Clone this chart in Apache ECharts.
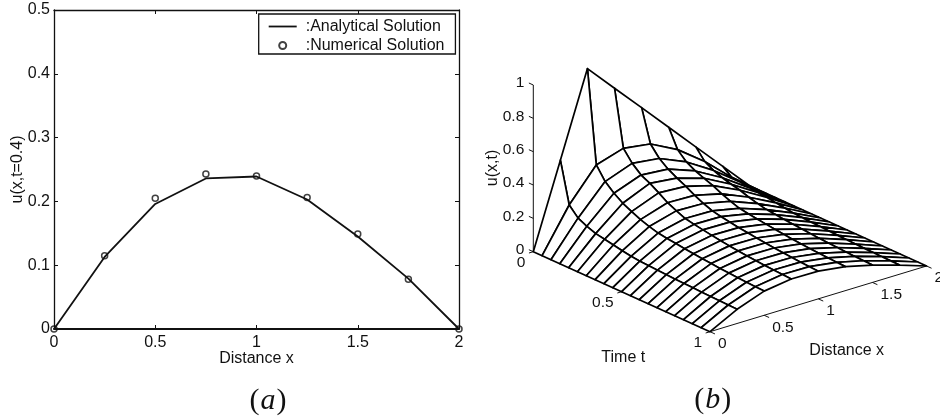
<!DOCTYPE html>
<html><head><meta charset="utf-8">
<style>html,body{margin:0;padding:0;background:#fff}#c{width:940px;height:417px}</style>
<script src="https://cdn.jsdelivr.net/npm/echarts@6/dist/echarts.min.js"></script>
</head><body><div id="c"></div>
<script>
// ---- panel (a) data
const sliceX = [0, 0.25, 0.5, 0.75, 1, 1.25, 1.5, 1.75, 2];
const analyticalU = [0, 0.113, 0.196, 0.236, 0.239, 0.203, 0.145, 0.079, 0];
const numericalU = [0, 0.115, 0.205, 0.243, 0.240, 0.206, 0.149, 0.078, 0];

// ---- panel (b) data: u(x,t), one row per time value
const meshX = [0, 0.25, 0.5, 0.75, 1, 1.25, 1.5, 1.75, 2];
const meshT = [0, 0.05, 0.1, 0.15, 0.2, 0.25, 0.3, 0.35, 0.4, 0.45, 0.5, 0.55, 0.6, 0.65, 0.7, 0.75, 0.8, 0.85, 0.9, 0.95, 1];
const meshU = [
  [0, 0.5, 1, 0.833, 0.667, 0.5, 0.333, 0.167, 0],
  [0, 0.255, 0.446, 0.496, 0.473, 0.39, 0.27, 0.125, 0],
  [0, 0.2, 0.37, 0.43, 0.41, 0.34, 0.24, 0.12, 0],
  [0, 0.175, 0.324, 0.384, 0.37, 0.31, 0.22, 0.11, 0],
  [0, 0.155, 0.288, 0.358, 0.34, 0.29, 0.205, 0.105, 0],
  [0, 0.145, 0.262, 0.325, 0.315, 0.27, 0.193, 0.1, 0],
  [0, 0.135, 0.238, 0.29, 0.285, 0.245, 0.175, 0.092, 0],
  [0, 0.124, 0.22, 0.265, 0.26, 0.224, 0.161, 0.085, 0],
  [0, 0.115, 0.205, 0.243, 0.24, 0.206, 0.149, 0.078, 0],
  [0, 0.11, 0.197, 0.232, 0.229, 0.197, 0.143, 0.075, 0],
  [0, 0.107, 0.19, 0.223, 0.22, 0.19, 0.138, 0.072, 0],
  [0, 0.104, 0.183, 0.214, 0.211, 0.183, 0.133, 0.07, 0],
  [0, 0.101, 0.177, 0.206, 0.204, 0.176, 0.128, 0.067, 0],
  [0, 0.098, 0.171, 0.199, 0.197, 0.17, 0.124, 0.065, 0],
  [0, 0.096, 0.166, 0.193, 0.191, 0.165, 0.12, 0.063, 0],
  [0, 0.094, 0.161, 0.187, 0.185, 0.16, 0.116, 0.061, 0],
  [0, 0.092, 0.157, 0.182, 0.18, 0.156, 0.113, 0.059, 0],
  [0, 0.09, 0.153, 0.178, 0.176, 0.152, 0.11, 0.058, 0],
  [0, 0.088, 0.15, 0.174, 0.172, 0.149, 0.108, 0.057, 0],
  [0, 0.087, 0.147, 0.171, 0.169, 0.146, 0.106, 0.056, 0],
  [0, 0.085, 0.145, 0.168, 0.166, 0.144, 0.104, 0.055, 0]
];
const uTicks = [0, 0.2, 0.4, 0.6, 0.8, 1];
const tTicks = [0, 0.5, 1];
const xTicks = [0, 0.5, 1, 1.5, 2];

// ---- view of the 3-D box onto a flat plane (orthographic, as the reference's view)
function project(x, t, u) {
  return [108.3 * x + 176.7 * t, 32.85 * x - 80 * t + 166.7 * u];
}

const FONT = '"Liberation Sans", Arial, sans-serif';
const INK = '#111';

const quads = [];
for (let k = 0; k < meshT.length - 1; k++) {
  for (let j = meshX.length - 2; j >= 0; j--) {
    quads.push([j, k]);
  }
}
const axisSegs = [
  [0, 0, 0, 0, 0, 1],
  [0, 1, 0, 2, 1, 0]
];
uTicks.forEach(u => axisSegs.push([0, 0, u, 0, -0.025, u]));
tTicks.forEach(t => axisSegs.push([0, t, 0, -0.04, t, 0]));
xTicks.forEach(x => axisSegs.push([x, 1, 0, x, 1.028, 0]));

const tickLabels = [];
uTicks.forEach(u => tickLabels.push({ value: [0, 0, u], text: String(u), dx: -9, dy: -2, align: 'right' }));
tTicks.forEach(t => tickLabels.push({ value: [0, t, 0], text: String(t), dx: -8, dy: 11, align: 'right' }));
xTicks.forEach(x => tickLabels.push({ value: [x, 1, 0], text: String(x), dx: 8, dy: 12, align: 'left' }));

const chart = echarts.init(document.getElementById('c'), null, { renderer: 'canvas' });
const boxAxis = { show: true, onZero: false, lineStyle: { color: INK, width: 1.3 } };
const insideTick = { show: true, inside: true, length: 4, lineStyle: { color: INK, width: 1 } };

chart.setOption({
  animation: false,
  backgroundColor: '#fff',
  textStyle: { fontFamily: FONT, color: INK },
  grid: [
    { left: 54, top: 10, width: 405, height: 319 },
    { left: 533.3, top: 66.7, width: 395, height: 265 }
  ],
  xAxis: [
    { gridIndex: 0, type: 'value', min: 0, max: 2, interval: 0.5, position: 'bottom',
      name: 'Distance x', nameLocation: 'middle', nameGap: 30, nameMoveOverlap: false,
      nameTextStyle: { fontSize: 16, color: INK, fontFamily: FONT, verticalAlign: 'middle' },
      axisLine: { show: true, onZero: false, lineStyle: { color: INK, width: 2 } }, axisTick: insideTick,
      axisLabel: { fontSize: 16, color: INK, fontFamily: FONT, margin: 6 }, splitLine: { show: false } },
    { gridIndex: 0, type: 'value', min: 0, max: 2, interval: 0.5, position: 'top',
      axisLine: boxAxis, axisTick: insideTick, axisLabel: { show: false }, splitLine: { show: false } },
    { gridIndex: 1, type: 'value', min: 0, max: 395, show: false }
  ],
  yAxis: [
    { gridIndex: 0, type: 'value', min: 0, max: 0.5, interval: 0.1, position: 'left',
      name: 'u(x,t=0.4)', nameLocation: 'middle', nameGap: 36, nameRotate: 90, nameMoveOverlap: false,
      nameTextStyle: { fontSize: 16, color: INK, fontFamily: FONT, verticalAlign: 'middle' },
      axisLine: boxAxis, axisTick: insideTick,
      axisLabel: { fontSize: 16, color: INK, fontFamily: FONT, margin: 4 }, splitLine: { show: false } },
    { gridIndex: 0, type: 'value', min: 0, max: 0.5, interval: 0.1, position: 'right',
      axisLine: boxAxis, axisTick: insideTick, axisLabel: { show: false }, splitLine: { show: false } },
    { gridIndex: 1, type: 'value', min: -80, max: 185, show: false }
  ],
  legend: {
    left: 258.7, top: 14, orient: 'vertical', align: 'left',
    padding: [4, 11, 0, 10], itemWidth: 28, itemHeight: 7, itemGap: 2,
    borderColor: INK, borderWidth: 1.3, backgroundColor: '#fff',
    textStyle: { fontSize: 16, color: INK, fontFamily: FONT, padding: [0, 0, 0, 4], lineHeight: 17 },
    data: [{ name: ':Analytical Solution', icon: 'path://M0 0H28V1.8H0Z', itemStyle: { color: INK, borderWidth: 0 } }, ':Numerical Solution']
  },
  series: [
    { name: ':Analytical Solution', type: 'line', xAxisIndex: 0, yAxisIndex: 0,
      data: sliceX.map((x, i) => [x, analyticalU[i]]), showSymbol: false, symbol: 'none',
      lineStyle: { color: INK, width: 1.8 }, itemStyle: { color: INK }, clip: false },
    { name: ':Numerical Solution', type: 'scatter', xAxisIndex: 0, yAxisIndex: 0,
      data: sliceX.map((x, i) => [x, numericalU[i]]), symbol: 'circle', symbolSize: 6,
      itemStyle: { color: 'rgba(255,255,255,0)', borderColor: INK, borderWidth: 1.5 }, clip: false, z: 5 },
    { type: 'custom', xAxisIndex: 2, yAxisIndex: 2, coordinateSystem: 'cartesian2d', z: 1, silent: true,
      data: axisSegs, encode: { x: 0, y: 1 },
      renderItem(p, api) {
        const v = axisSegs[p.dataIndex];
        const a = api.coord(project(v[0], v[1], v[2]));
        const b = api.coord(project(v[3], v[4], v[5]));
        return { type: 'line', shape: { x1: a[0], y1: a[1], x2: b[0], y2: b[1] },
          style: { stroke: INK, lineWidth: 1, fill: null } };
      } },
    { type: 'custom', xAxisIndex: 2, yAxisIndex: 2, coordinateSystem: 'cartesian2d', z: 2, silent: true,
      data: quads, encode: { x: 0, y: 1 },
      renderItem(p, api) {
        const q = quads[p.dataIndex], j = q[0], k = q[1];
        const corners = [[j, k], [j + 1, k], [j + 1, k + 1], [j, k + 1]];
        const pts = corners.map(c => api.coord(project(meshX[c[0]], meshT[c[1]], meshU[c[1]][c[0]])));
        return { type: 'polygon', shape: { points: pts },
          style: { fill: '#fff', stroke: '#000', lineWidth: 1.7, lineJoin: 'round' } };
      } },
    { type: 'custom', xAxisIndex: 2, yAxisIndex: 2, coordinateSystem: 'cartesian2d', z: 3, silent: true,
      data: tickLabels.map(l => l.value), encode: { x: 0, y: 1 },
      renderItem(p, api) {
        const l = tickLabels[p.dataIndex];
        const a = api.coord(project(l.value[0], l.value[1], l.value[2]));
        return { type: 'text', x: a[0] + l.dx, y: a[1] + l.dy,
          style: { text: l.text, fontSize: 15.5, fontFamily: FONT, fill: INK, align: l.align, verticalAlign: 'middle' } };
      } }
  ],
  graphic: [
    { type: 'text', x: 493, y: 168, rotation: Math.PI / 2, style: { text: 'u(x,t)', fontSize: 16, fontFamily: FONT, fill: INK, align: 'center', verticalAlign: 'middle' } },
    { type: 'text', x: 623.3, y: 357.3, style: { text: 'Time t', fontSize: 16, fontFamily: FONT, fill: INK, align: 'center', verticalAlign: 'middle' } },
    { type: 'text', x: 846.7, y: 351, style: { text: 'Distance x', fontSize: 16, fontFamily: FONT, fill: INK, align: 'center', verticalAlign: 'middle' } },
    { type: 'text', x: 268, y: 401, style: { text: '{p|(}{i|a}{p|)}', align: 'center', verticalAlign: 'middle',
        rich: { p: { fontSize: 30, fontFamily: '"Liberation Serif", serif', fill: INK },
                i: { fontSize: 30, fontFamily: '"Liberation Serif", serif', fontStyle: 'italic', fill: INK, padding: [0, 1, 0, 1] } } } },
    { type: 'text', x: 712.7, y: 400, style: { text: '{p|(}{i|b}{p|)}', align: 'center', verticalAlign: 'middle',
        rich: { p: { fontSize: 30, fontFamily: '"Liberation Serif", serif', fill: INK },
                i: { fontSize: 30, fontFamily: '"Liberation Serif", serif', fontStyle: 'italic', fill: INK, padding: [0, 1, 0, 1] } } } }
  ]
});
</script></body></html>
